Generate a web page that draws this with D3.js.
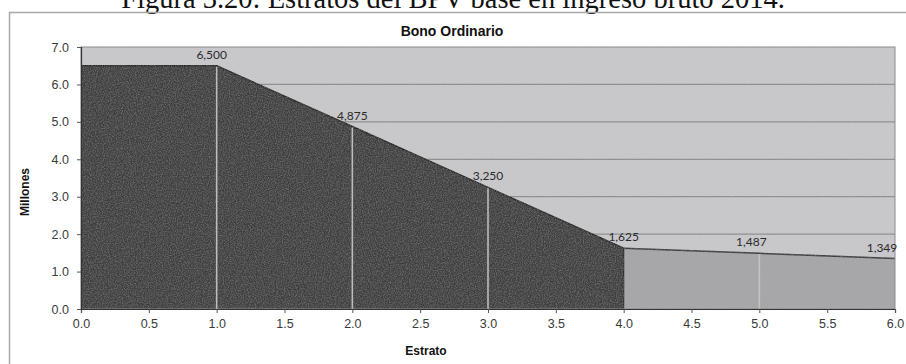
<!DOCTYPE html>
<html>
<head>
<meta charset="utf-8">
<script src="https://cdn.jsdelivr.net/npm/d3@7"></script>
<style>
  html, body { margin: 0; padding: 0; background: #fff; }
  svg { display: block; }
</style>
</head>
<body>
<svg id="chart" width="906" height="364"></svg>
<script>
// Bono Ordinario by stratum (millions)
const estratos = [0, 1, 2, 3, 4, 5, 6];
const bono = [6.5, 6.5, 4.875, 3.25, 1.625, 1.487, 1.349];
const etiquetas = ["6,500", "4,875", "3,250", "1,625", "1,487", "1,349"];
const xTicks = [0, 0.5, 1, 1.5, 2, 2.5, 3, 3.5, 4, 4.5, 5, 5.5, 6];
const yTicks = [0, 1, 2, 3, 4, 5, 6, 7];

const svg = d3.select("#chart");
const x = d3.scaleLinear().domain([0, 6]).range([81, 895]);
const y = d3.scaleLinear().domain([0, 7]).range([309, 47]);

const pts = estratos.map((e, i) => ({ e, v: bono[i] }));
const tramoAlto = pts.filter(p => p.e <= 4);
const tramoBajo = pts.filter(p => p.e >= 4);

// light grain over the plot area
const defs = svg.append("defs");
const f = defs.append("filter").attr("id", "grain").attr("x", 0).attr("y", 0).attr("width", 1).attr("height", 1);
f.append("feTurbulence").attr("type", "fractalNoise").attr("baseFrequency", 0.85).attr("numOctaves", 2).attr("seed", 3).attr("result", "n");
f.append("feColorMatrix").attr("in", "n").attr("type", "matrix")
  .attr("values", "0 0 0 0 0.5  0 0 0 0 0.5  0 0 0 0 0.5  0.45 0 0 0 -0.17").attr("result", "g");
f.append("feComposite").attr("in", "g").attr("in2", "SourceGraphic").attr("operator", "in").attr("result", "gc");
const fm = f.append("feMerge");
fm.append("feMergeNode").attr("in", "SourceGraphic");
fm.append("feMergeNode").attr("in", "gc");

// figure caption (runs off the top edge)
svg.append("text")
  .attr("x", 453).attr("y", 8)
  .attr("text-anchor", "middle")
  .attr("font-family", "Liberation Serif, DejaVu Serif, serif")
  .attr("font-size", 28.5)
  .attr("fill", "#111")
  .text("Figura 3.20: Estratos del BPV base en ingreso bruto 2014.");

// outer chart frame
svg.append("path")
  .attr("d", "M9.5,364 V12.5 H906")
  .attr("fill", "none").attr("stroke", "#a8a8a8").attr("stroke-width", 1.5);

const plot = svg.append("g").attr("filter", "url(#grain)");

// plot background
plot.append("rect")
  .attr("x", x(0)).attr("y", y(7))
  .attr("width", x(6) - x(0)).attr("height", y(0) - y(7))
  .attr("fill", "#c9c9cc");

// horizontal gridlines
plot.append("g").selectAll("line").data(yTicks.filter(t => t > 0 && t < 7)).join("line")
  .attr("x1", x(0)).attr("x2", x(6))
  .attr("y1", d => y(d)).attr("y2", d => y(d))
  .attr("stroke", "#8e8e92").attr("stroke-width", 1.2);

const area = d3.area().x(d => x(d.e)).y0(y(0)).y1(d => y(d.v));
const line = d3.line().x(d => x(d.e)).y(d => y(d.v));

plot.append("path").datum(tramoAlto).attr("d", area).attr("fill", "#3f3f41");
plot.append("path").datum(tramoBajo).attr("d", area).attr("fill", "#a6a6a8");

// outlines of the two segments
plot.append("path").datum(tramoAlto).attr("d", line)
  .attr("fill", "none").attr("stroke", "#262626").attr("stroke-width", 1.5);
plot.append("path").datum(tramoBajo).attr("d", line)
  .attr("fill", "none").attr("stroke", "#3a3a3a").attr("stroke-width", 1.5);
plot.append("line")
  .attr("x1", x(4)).attr("x2", x(4)).attr("y1", y(0)).attr("y2", y(bono[4]))
  .attr("stroke", "#2a2a2a").attr("stroke-width", 1.2);

// light drop lines at integer strata
plot.append("g").selectAll("line").data(pts.filter(p => [1, 2, 3, 5].includes(p.e))).join("line")
  .attr("x1", d => x(d.e)).attr("x2", d => x(d.e))
  .attr("y1", y(0)).attr("y2", d => y(d.v) + 1)
  .attr("stroke", d => d.e === 5 ? "#c4c4c6" : "#bdbdbf").attr("stroke-width", 1.6);

// plot border
svg.append("rect")
  .attr("x", x(0)).attr("y", y(7))
  .attr("width", x(6) - x(0)).attr("height", y(0) - y(7))
  .attr("fill", "none").attr("stroke", "#8a8a8e").attr("stroke-width", 1);

// axes
const xAxis = d3.axisBottom(x).tickValues(xTicks).tickFormat(d3.format(".1f")).tickSize(4).tickPadding(6);
const yAxis = d3.axisLeft(y).tickValues(yTicks).tickFormat(d3.format(".1f")).tickSize(4).tickPadding(8);

const gx = svg.append("g").attr("transform", `translate(0,${y(0)})`).call(xAxis);
const gy = svg.append("g").attr("transform", `translate(${x(0)},0)`).call(yAxis);
[gx, gy].forEach(g => {
  g.select(".domain").attr("stroke", "#333").attr("stroke-width", 1.2);
  g.selectAll(".tick line").attr("stroke", "#555");
  g.selectAll(".tick text")
    .attr("font-family", "Liberation Sans, Arial, sans-serif")
    .attr("font-size", 12.5).attr("fill", "#3a3a3a");
});

// value labels
const lab = pts.slice(1);
const dx = [-5, 0, 0, 0, -8, -13];
svg.append("g").selectAll("text").data(lab).join("text")
  .attr("x", (d, i) => x(d.e) + dx[i])
  .attr("y", d => y(d.v) - 7)
  .attr("text-anchor", "middle")
  .attr("font-family", "Lato, Open Sans, sans-serif")
  .attr("font-size", 12).attr("fill", "#2a2a2a")
  .text((d, i) => etiquetas[i]);

// titles
svg.append("text")
  .attr("x", 452).attr("y", 36)
  .attr("text-anchor", "middle")
  .attr("font-family", "Liberation Sans, Arial, sans-serif")
  .attr("font-weight", "bold").attr("font-size", 14).attr("fill", "#111")
  .text("Bono Ordinario");

svg.append("text")
  .attr("x", 426).attr("y", 355)
  .attr("text-anchor", "middle")
  .attr("font-family", "Liberation Sans, Arial, sans-serif")
  .attr("font-weight", "bold").attr("font-size", 12).attr("fill", "#111")
  .text("Estrato");

svg.append("text")
  .attr("transform", "translate(29,192) rotate(-90)")
  .attr("text-anchor", "middle")
  .attr("font-family", "Liberation Sans, Arial, sans-serif")
  .attr("font-weight", "bold").attr("font-size", 12).attr("fill", "#111")
  .text("Millones");
</script>
</body>
</html>
